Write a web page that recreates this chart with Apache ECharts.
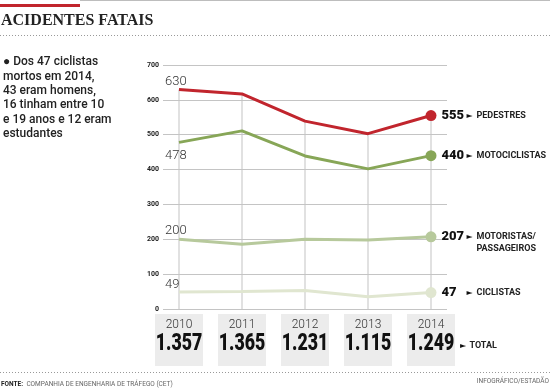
<!DOCTYPE html>
<html><head><meta charset="utf-8">
<script src="https://cdn.jsdelivr.net/npm/echarts@6/dist/echarts.min.js"></script>
<style>html,body{margin:0;padding:0;background:#fff}#c{width:550px;height:388px}</style>
</head><body><div id="c"></div>
<script>
const years = ['2010','2011','2012','2013','2014'];
const totals = ['1.357','1.365','1.231','1.115','1.249'];
const pedestres = [630, 617, 539, 503, 555];
const motociclistas = [478, 511, 439, 402, 440];
const motoristas = [200, 186, 200, 198, 207];
const ciclistas = [49, 50, 53, 35, 47];
const yTicks = [0, 100, 200, 300, 400, 500, 600, 700];
const seriesNames = ['PEDESTRES', 'MOTOCICLISTAS', 'MOTORISTAS/\nPASSAGEIROS', 'CICLISTAS'];

const chart = echarts.init(document.getElementById('c'), null, {renderer: 'canvas'});
const endRich = {
  v: {fontFamily: 'Roboto', fontWeight: 900, fontSize: 13, color: '#111', width: 25, align: 'left'},
  a: {fontFamily: 'DejaVu Sans', fontSize: 8, color: '#111', width: 10, align: 'left'},
  n: {fontFamily: 'Roboto', fontWeight: 'bold', fontSize: 9, color: '#222', lineHeight: 10},
  p: {width: 35, fontSize: 9}
};
function mkData(vals, name, firstPos, firstOff, endOff) {
  const last = vals.length - 1;
  return vals.map((v, i) => {
    if (i === 0) return {value: v, label: {show: true, position: firstPos, align: 'left', offset: firstOff,
      formatter: String(v), fontFamily: 'Roboto', fontWeight: 300, fontSize: 13, color: '#333'}};
    if (i === last) {
      const parts = name.split('\n');
      let f = '{v|' + v + '}{a|►}{n|' + parts[0] + '}';
      if (parts[1]) f += '\n{p|\u00a0}{n|' + parts[1] + '}';
      return {value: v, symbolSize: 11, label: {show: true, position: 'right', distance: 5, offset: endOff,
        formatter: f, rich: endRich}};
    }
    return v;
  });
}
function lineSeries(vals, name, color, firstPos, firstOff, endOff) {
  return {type: 'line', xAxisIndex: 1, yAxisIndex: 1, data: mkData(vals, name, firstPos, firstOff, endOff),
    symbol: 'circle', symbolSize: 0, showAllSymbol: true,
    lineStyle: {color: color, width: 3}, itemStyle: {color: color}, z: 5, silent: true};
}
chart.setOption({
  animation: false,
  grid: [
    {left: 163, right: 103, top: 65, bottom: 79},
    {left: 179, right: 119, top: 65, bottom: 79}
  ],
  xAxis: [
    {gridIndex: 0, type: 'category', data: years, show: false},
    {gridIndex: 1, type: 'category', data: years, boundaryGap: false,
      axisLine: {show: false}, axisTick: {show: false}, splitLine: {show: false}, axisLabel: {show: false}}
  ],
  yAxis: [
    {gridIndex: 0, type: 'value', min: yTicks[0], max: yTicks[yTicks.length - 1], interval: 100,
      axisLine: {show: false}, axisTick: {show: false},
      axisLabel: {margin: 4, fontFamily: 'Roboto', fontWeight: 'bold', fontSize: 7, color: '#222'},
      splitLine: {lineStyle: {color: '#c4c4c4', width: 1}}},
    {gridIndex: 1, type: 'value', min: yTicks[0], max: yTicks[yTicks.length - 1], interval: 100, show: false}
  ],
  series: [
    {type: 'bar', xAxisIndex: 1, yAxisIndex: 1, data: pedestres, barWidth: 1,
      itemStyle: {color: '#c4c4c4'}, silent: true, z: 1},
    lineSeries(ciclistas, seriesNames[3], '#e0e6d0', 'top', [-14, 4], [0, 0]),
    lineSeries(motoristas, seriesNames[2], '#b7c99c', 'top', [-14, 3], [0, 5]),
    lineSeries(motociclistas, seriesNames[1], '#87a657', 'bottom', [-14, 2], [0, 0]),
    lineSeries(pedestres, seriesNames[0], '#c1252d', 'top', [-14, 4], [0, 0]),
    {type: 'custom', xAxisIndex: 1, yAxisIndex: 1, clip: false, silent: true, z: 2,
      data: years.map((y, i) => [i, 0]),
      renderItem: function (params, api) {
        const i = api.value(0);
        const pt = api.coord([i, 0]);
        return {type: 'group', children: [
          {type: 'rect', shape: {x: pt[0] - 24, y: pt[1] + 5, width: 48, height: 52}, style: {fill: '#ececec'}},
          {type: 'text', x: pt[0], y: pt[1] + 15.5, style: {text: years[i], align: 'center', verticalAlign: 'middle',
            fontFamily: 'Roboto', fontWeight: 300, fontSize: 12, fill: '#333'}},
          {type: 'text', x: pt[0], y: pt[1] + 35, scaleX: 0.74, style: {text: totals[i], align: 'center', verticalAlign: 'middle',
            fontFamily: 'Roboto', fontWeight: 900, fontSize: 24, fill: '#111'}}
        ]};
      }}
  ],
  graphic: [
    {type: 'rect', shape: {x: 80, y: 0, width: 470, height: 1}, style: {fill: '#bdbdbd'}},
    {type: 'rect', shape: {x: 0, y: 4, width: 80, height: 3}, style: {fill: '#c1252d'}},
    {type: 'text', left: 1, top: 13, style: {text: 'ACIDENTES FATAIS', fontFamily: "'Liberation Serif', serif",
      fontWeight: 'bold', fontSize: 16, fill: '#222'}},
    {type: 'line', shape: {x1: 0, y1: 35.5, x2: 550, y2: 35.5}, style: {stroke: '#999', lineWidth: 1, lineDash: [1, 2]}},
    {type: 'text', left: 3, top: 55, style: {
      text: '● Dos 47 ciclistas\nmortos em 2014,\n43 eram homens,\n16 tinham entre 10\ne 19 anos e 12 eram\nestudantes',
      fontFamily: 'Roboto', fontWeight: 500, fontSize: 12, lineHeight: 14.4, fill: '#222'}},
    {type: 'text', left: 460, top: 340, style: {
      text: '{a|►} {n|TOTAL}', rich: {a: {fontFamily: 'DejaVu Sans', fontSize: 8, fill: '#111'},
      n: {fontFamily: 'Roboto', fontWeight: 'bold', fontSize: 9, fill: '#222'}}}},
    {type: 'line', shape: {x1: 0, y1: 372.5, x2: 550, y2: 372.5}, style: {stroke: '#999', lineWidth: 1, lineDash: [1, 2]}},
    {type: 'text', left: 1, top: 378, style: {
      text: '{b|FONTE:} {n|COMPANHIA DE ENGENHARIA DE TRÁFEGO (CET)}',
      rich: {b: {fontFamily: 'Roboto', fontWeight: 'bold', fontSize: 6.5, fill: '#222'},
        n: {fontFamily: 'Roboto', fontSize: 6.5, fill: '#666'}}}},
    {type: 'text', right: 1, top: 378, style: {text: 'INFOGRÁFICO/ESTADÃO', fontFamily: 'Roboto', fontSize: 6.5, fill: '#666'}}
  ]
});
</script></body></html>
